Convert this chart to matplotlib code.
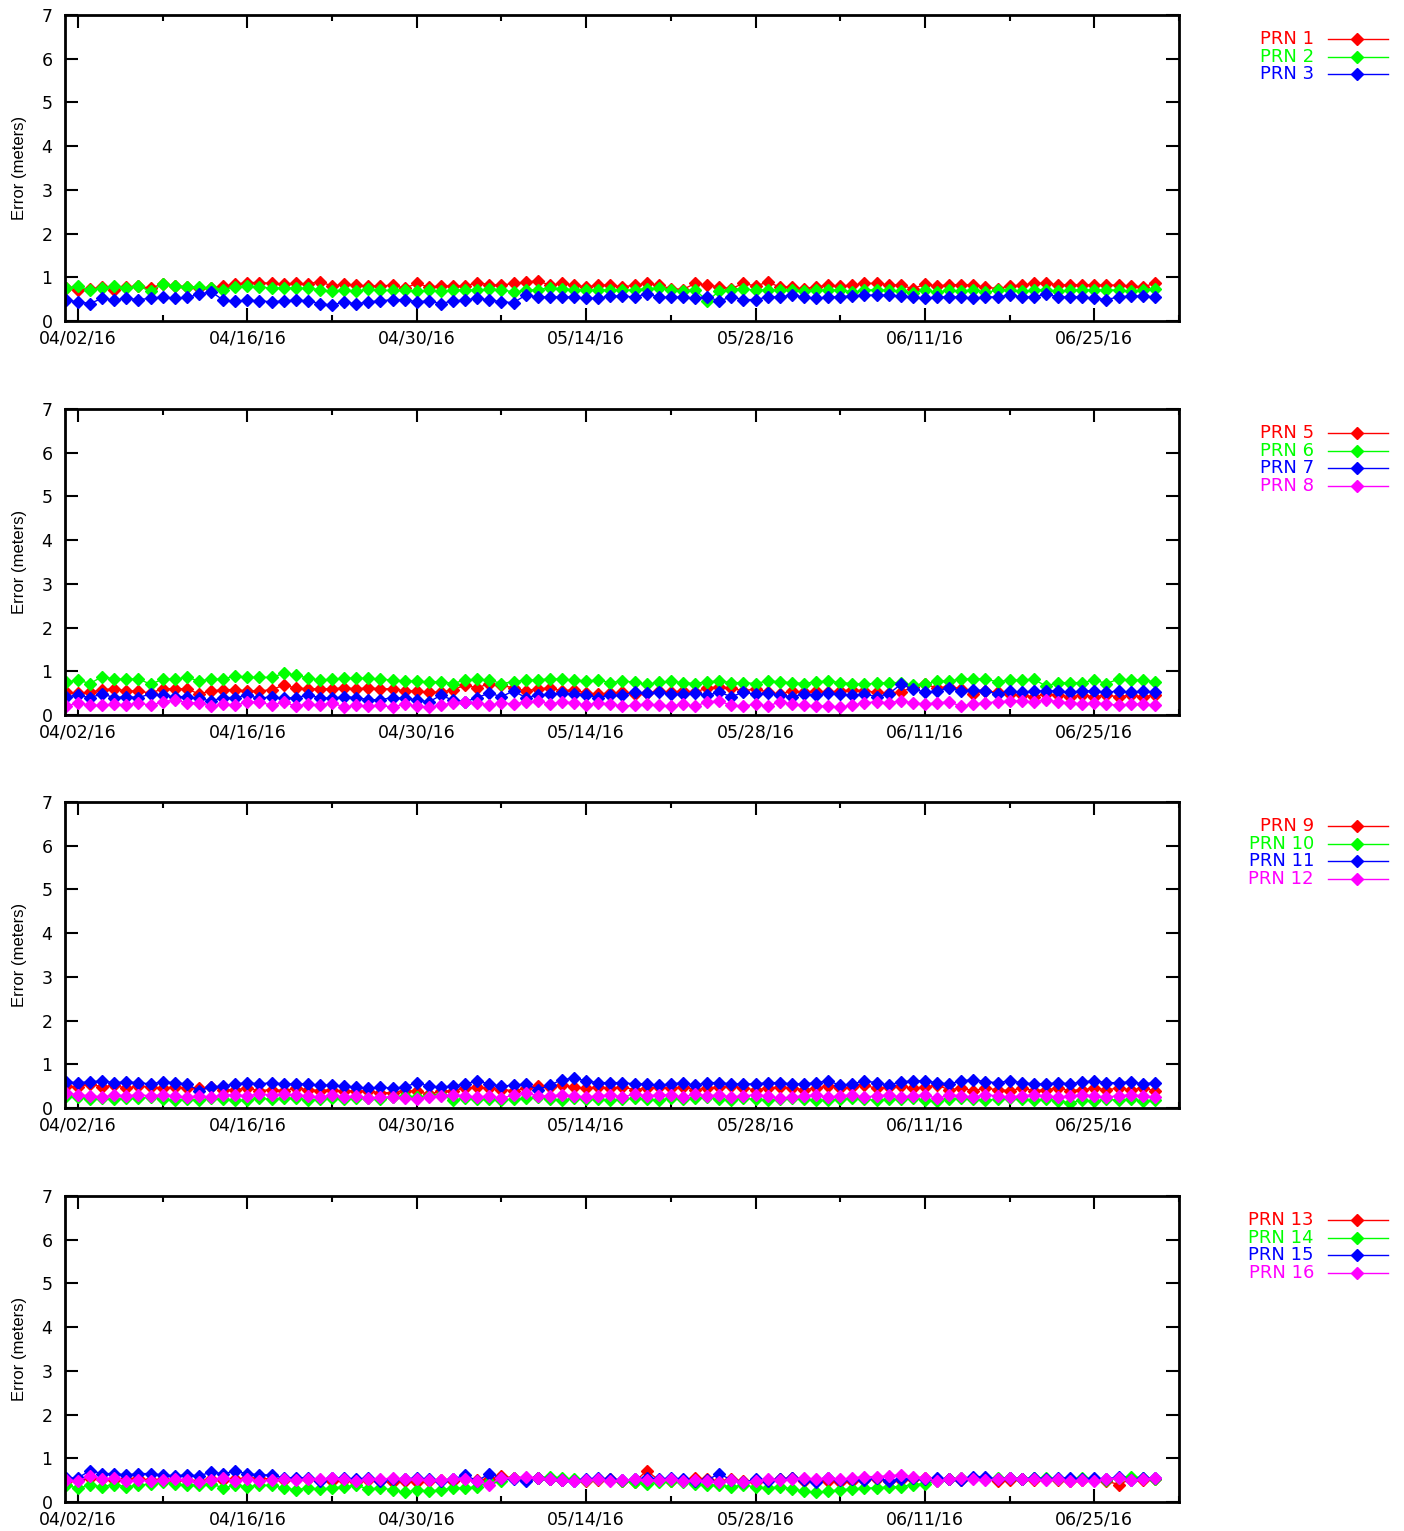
import matplotlib
matplotlib.use("Agg")
import matplotlib.pyplot as plt
import matplotlib.dates as mdates
from matplotlib.lines import Line2D
import pandas as pd

# daily samples, 04/01/16 .. 06/30/16
dates = pd.date_range("2016-04-01", periods=91, freq="D")

prn1 = [0.75, 0.72, 0.73, 0.78, 0.70, 0.77, 0.80, 0.75, 0.85, 0.80,
        0.78, 0.75, 0.75, 0.80, 0.84, 0.88, 0.88, 0.86, 0.85, 0.86,
        0.85, 0.90, 0.80, 0.84, 0.82, 0.80, 0.80, 0.82, 0.75, 0.86,
        0.78, 0.80, 0.80, 0.80, 0.88, 0.83, 0.82, 0.86, 0.89, 0.92,
        0.82, 0.86, 0.82, 0.78, 0.82, 0.82, 0.78, 0.82, 0.86, 0.82,
        0.74, 0.72, 0.86, 0.82, 0.78, 0.74, 0.86, 0.80, 0.89, 0.78,
        0.77, 0.74, 0.78, 0.82, 0.80, 0.82, 0.86, 0.86, 0.83, 0.82,
        0.74, 0.84, 0.80, 0.83, 0.83, 0.82, 0.78, 0.74, 0.80, 0.82,
        0.86, 0.86, 0.83, 0.82, 0.83, 0.82, 0.82, 0.82, 0.80, 0.78,
        0.86]
prn2 = [0.75, 0.80, 0.70, 0.75, 0.80, 0.75, 0.80, 0.68, 0.84, 0.80,
        0.78, 0.78, 0.75, 0.72, 0.78, 0.80, 0.78, 0.75, 0.76, 0.75,
        0.75, 0.72, 0.68, 0.72, 0.68, 0.73, 0.70, 0.70, 0.70, 0.68,
        0.70, 0.68, 0.70, 0.72, 0.70, 0.73, 0.72, 0.66, 0.70, 0.72,
        0.76, 0.74, 0.72, 0.72, 0.70, 0.72, 0.70, 0.72, 0.74, 0.76,
        0.70, 0.68, 0.72, 0.46, 0.68, 0.72, 0.74, 0.70, 0.72, 0.70,
        0.72, 0.68, 0.72, 0.70, 0.72, 0.66, 0.70, 0.72, 0.70, 0.68,
        0.64, 0.70, 0.66, 0.70, 0.68, 0.72, 0.66, 0.70, 0.72, 0.68,
        0.70, 0.72, 0.68, 0.70, 0.72, 0.70, 0.72, 0.70, 0.68, 0.72,
        0.74]
prn3 = [0.48, 0.44, 0.40, 0.52, 0.48, 0.52, 0.49, 0.52, 0.55, 0.52,
        0.54, 0.61, 0.67, 0.48, 0.45, 0.48, 0.46, 0.44, 0.46, 0.48,
        0.46, 0.40, 0.36, 0.44, 0.39, 0.44, 0.46, 0.49, 0.49, 0.44,
        0.46, 0.40, 0.46, 0.48, 0.52, 0.48, 0.44, 0.42, 0.59, 0.55,
        0.55, 0.55, 0.55, 0.52, 0.52, 0.57, 0.57, 0.55, 0.62, 0.55,
        0.54, 0.55, 0.52, 0.55, 0.46, 0.55, 0.49, 0.49, 0.55, 0.55,
        0.59, 0.55, 0.52, 0.55, 0.55, 0.58, 0.59, 0.59, 0.59, 0.57,
        0.55, 0.52, 0.55, 0.55, 0.55, 0.52, 0.55, 0.55, 0.59, 0.55,
        0.55, 0.62, 0.55, 0.55, 0.55, 0.52, 0.49, 0.55, 0.57, 0.57,
        0.55]

prn5 = [0.52, 0.50, 0.52, 0.58, 0.60, 0.55, 0.55, 0.50, 0.60, 0.60,
        0.60, 0.48, 0.55, 0.58, 0.58, 0.55, 0.55, 0.58, 0.68, 0.62,
        0.60, 0.60, 0.60, 0.62, 0.60, 0.62, 0.60, 0.60, 0.55, 0.55,
        0.52, 0.52, 0.58, 0.68, 0.62, 0.72, 0.68, 0.62, 0.55, 0.60,
        0.62, 0.55, 0.58, 0.50, 0.48, 0.50, 0.52, 0.48, 0.50, 0.55,
        0.52, 0.55, 0.52, 0.62, 0.64, 0.62, 0.55, 0.60, 0.52, 0.48,
        0.55, 0.52, 0.55, 0.52, 0.55, 0.58, 0.55, 0.52, 0.50, 0.52,
        0.65, 0.70, 0.62, 0.65, 0.60, 0.48, 0.55, 0.52, 0.48, 0.45,
        0.42, 0.48, 0.45, 0.42, 0.45, 0.42, 0.45, 0.42, 0.45, 0.42,
        0.45]
prn6 = [0.75, 0.80, 0.72, 0.88, 0.82, 0.82, 0.83, 0.70, 0.82, 0.82,
        0.86, 0.78, 0.82, 0.82, 0.90, 0.86, 0.86, 0.86, 0.95, 0.92,
        0.84, 0.80, 0.82, 0.84, 0.84, 0.84, 0.82, 0.80, 0.78, 0.77,
        0.76, 0.76, 0.72, 0.80, 0.82, 0.80, 0.72, 0.76, 0.80, 0.80,
        0.83, 0.82, 0.80, 0.78, 0.80, 0.74, 0.78, 0.75, 0.70, 0.75,
        0.77, 0.74, 0.72, 0.76, 0.78, 0.74, 0.74, 0.72, 0.78, 0.76,
        0.74, 0.72, 0.76, 0.78, 0.74, 0.72, 0.70, 0.73, 0.74, 0.74,
        0.68, 0.70, 0.78, 0.78, 0.82, 0.83, 0.82, 0.76, 0.80, 0.80,
        0.82, 0.66, 0.74, 0.74, 0.74, 0.80, 0.72, 0.82, 0.80, 0.80,
        0.76]
prn7 = [0.42, 0.45, 0.40, 0.48, 0.40, 0.42, 0.40, 0.48, 0.45, 0.42,
        0.42, 0.38, 0.32, 0.40, 0.40, 0.45, 0.38, 0.42, 0.38, 0.40,
        0.45, 0.40, 0.38, 0.42, 0.40, 0.35, 0.35, 0.40, 0.38, 0.35,
        0.30, 0.45, 0.34, 0.30, 0.40, 0.50, 0.42, 0.55, 0.40, 0.45,
        0.48, 0.50, 0.48, 0.45, 0.40, 0.45, 0.45, 0.52, 0.50, 0.52,
        0.48, 0.48, 0.50, 0.45, 0.52, 0.42, 0.52, 0.48, 0.50, 0.45,
        0.42, 0.48, 0.45, 0.50, 0.48, 0.45, 0.48, 0.42, 0.48, 0.70,
        0.60, 0.52, 0.55, 0.62, 0.55, 0.58, 0.55, 0.48, 0.55, 0.52,
        0.55, 0.55, 0.55, 0.52, 0.55, 0.55, 0.52, 0.55, 0.52, 0.55,
        0.52]
prn8 = [0.20, 0.28, 0.22, 0.22, 0.25, 0.22, 0.28, 0.22, 0.30, 0.35,
        0.28, 0.28, 0.20, 0.25, 0.22, 0.30, 0.30, 0.22, 0.30, 0.20,
        0.25, 0.22, 0.28, 0.18, 0.22, 0.20, 0.22, 0.18, 0.25, 0.20,
        0.18, 0.22, 0.28, 0.30, 0.28, 0.22, 0.28, 0.25, 0.30, 0.32,
        0.25, 0.30, 0.28, 0.22, 0.28, 0.25, 0.20, 0.22, 0.25, 0.22,
        0.20, 0.25, 0.20, 0.30, 0.32, 0.22, 0.20, 0.25, 0.20, 0.30,
        0.25, 0.22, 0.20, 0.20, 0.18, 0.22, 0.28, 0.30, 0.28, 0.32,
        0.28, 0.25, 0.28, 0.30, 0.20, 0.25, 0.28, 0.30, 0.32, 0.32,
        0.30, 0.35, 0.30, 0.28, 0.25, 0.28, 0.25, 0.22, 0.25, 0.25,
        0.22]

prn9 = [0.50, 0.48, 0.55, 0.48, 0.52, 0.45, 0.50, 0.48, 0.45, 0.48,
        0.45, 0.45, 0.48, 0.42, 0.42, 0.45, 0.40, 0.42, 0.40, 0.45,
        0.42, 0.40, 0.42, 0.38, 0.40, 0.38, 0.35, 0.35, 0.40, 0.38,
        0.32, 0.38, 0.40, 0.45, 0.48, 0.45, 0.42, 0.40, 0.45, 0.50,
        0.48, 0.52, 0.48, 0.45, 0.48, 0.45, 0.48, 0.42, 0.45, 0.48,
        0.45, 0.48, 0.42, 0.45, 0.48, 0.50, 0.45, 0.42, 0.45, 0.48,
        0.45, 0.42, 0.45, 0.50, 0.45, 0.48, 0.52, 0.45, 0.48, 0.50,
        0.45, 0.48, 0.52, 0.42, 0.45, 0.40, 0.45, 0.42, 0.40, 0.45,
        0.40, 0.42, 0.45, 0.40, 0.42, 0.45, 0.42, 0.45, 0.42, 0.45,
        0.40]
prn10 = [0.28, 0.25, 0.20, 0.22, 0.20, 0.22, 0.22, 0.25, 0.20, 0.18,
         0.20, 0.18, 0.22, 0.20, 0.18, 0.18, 0.22, 0.20, 0.22, 0.22,
         0.18, 0.20, 0.22, 0.20, 0.22, 0.22, 0.20, 0.25, 0.28, 0.25,
         0.28, 0.30, 0.18, 0.22, 0.20, 0.20, 0.18, 0.20, 0.22, 0.25,
         0.20, 0.18, 0.22, 0.20, 0.20, 0.18, 0.20, 0.22, 0.20, 0.18,
         0.22, 0.20, 0.22, 0.25, 0.20, 0.18, 0.22, 0.20, 0.18, 0.20,
         0.22, 0.20, 0.18, 0.18, 0.20, 0.22, 0.20, 0.18, 0.20, 0.20,
         0.22, 0.18, 0.16, 0.20, 0.22, 0.20, 0.18, 0.20, 0.22, 0.20,
         0.18, 0.20, 0.16, 0.12, 0.18, 0.15, 0.20, 0.18, 0.20, 0.16,
         0.18]
prn11 = [0.60, 0.58, 0.60, 0.62, 0.58, 0.60, 0.58, 0.55, 0.60, 0.58,
         0.55, 0.40, 0.48, 0.50, 0.55, 0.58, 0.55, 0.58, 0.55, 0.55,
         0.55, 0.52, 0.52, 0.50, 0.48, 0.45, 0.48, 0.45, 0.48, 0.58,
         0.50, 0.48, 0.50, 0.55, 0.62, 0.55, 0.50, 0.52, 0.55, 0.42,
         0.52, 0.65, 0.68, 0.62, 0.58, 0.58, 0.58, 0.55, 0.55, 0.52,
         0.55, 0.58, 0.52, 0.58, 0.58, 0.55, 0.55, 0.55, 0.58, 0.58,
         0.55, 0.55, 0.58, 0.62, 0.52, 0.55, 0.62, 0.58, 0.52, 0.60,
         0.62, 0.62, 0.58, 0.55, 0.62, 0.65, 0.60, 0.58, 0.62, 0.58,
         0.55, 0.55, 0.58, 0.55, 0.60, 0.62, 0.58, 0.58, 0.60, 0.55,
         0.58]
prn12 = [0.35, 0.30, 0.28, 0.25, 0.30, 0.28, 0.30, 0.28, 0.30, 0.28,
         0.25, 0.28, 0.25, 0.30, 0.30, 0.28, 0.32, 0.30, 0.32, 0.30,
         0.28, 0.25, 0.30, 0.25, 0.28, 0.22, 0.25, 0.25, 0.22, 0.20,
         0.25, 0.28, 0.30, 0.28, 0.25, 0.28, 0.22, 0.30, 0.35, 0.28,
         0.28, 0.30, 0.28, 0.25, 0.28, 0.30, 0.25, 0.32, 0.28, 0.30,
         0.30, 0.25, 0.32, 0.28, 0.30, 0.25, 0.28, 0.30, 0.28, 0.22,
         0.25, 0.28, 0.30, 0.25, 0.28, 0.30, 0.25, 0.28, 0.30, 0.25,
         0.28, 0.30, 0.22, 0.30, 0.28, 0.25, 0.30, 0.28, 0.25, 0.28,
         0.30, 0.28, 0.25, 0.28, 0.30, 0.28, 0.25, 0.28, 0.30, 0.28,
         0.25]

prn13 = [0.48, 0.50, 0.55, 0.52, 0.50, 0.52, 0.55, 0.50, 0.52, 0.50,
         0.50, 0.48, 0.52, 0.50, 0.52, 0.55, 0.55, 0.52, 0.50, 0.52,
         0.52, 0.50, 0.48, 0.50, 0.45, 0.50, 0.48, 0.45, 0.48, 0.45,
         0.48, 0.50, 0.48, 0.52, 0.50, 0.52, 0.60, 0.55, 0.52, 0.55,
         0.52, 0.50, 0.50, 0.48, 0.50, 0.52, 0.48, 0.45, 0.72, 0.50,
         0.48, 0.50, 0.55, 0.52, 0.48, 0.52, 0.48, 0.45, 0.50, 0.52,
         0.55, 0.48, 0.50, 0.48, 0.45, 0.48, 0.50, 0.52, 0.48, 0.50,
         0.52, 0.55, 0.50, 0.52, 0.50, 0.55, 0.52, 0.48, 0.50, 0.52,
         0.50, 0.52, 0.50, 0.48, 0.50, 0.52, 0.48, 0.40, 0.52, 0.50,
         0.52]
prn14 = [0.38, 0.32, 0.38, 0.35, 0.40, 0.35, 0.38, 0.42, 0.45, 0.42,
         0.38, 0.40, 0.42, 0.32, 0.38, 0.35, 0.38, 0.38, 0.32, 0.28,
         0.32, 0.30, 0.32, 0.35, 0.38, 0.30, 0.32, 0.28, 0.22, 0.28,
         0.25, 0.28, 0.32, 0.32, 0.35, 0.45, 0.48, 0.55, 0.52, 0.55,
         0.58, 0.55, 0.52, 0.50, 0.52, 0.50, 0.48, 0.45, 0.42, 0.45,
         0.48, 0.45, 0.42, 0.40, 0.38, 0.35, 0.38, 0.35, 0.32, 0.35,
         0.30, 0.25, 0.22, 0.25, 0.28, 0.30, 0.32, 0.32, 0.35, 0.35,
         0.40, 0.42, 0.48, 0.52, 0.55, 0.55, 0.52, 0.55, 0.55, 0.52,
         0.55, 0.55, 0.52, 0.50, 0.55, 0.52, 0.50, 0.55, 0.58, 0.55,
         0.52]
prn15 = [0.55, 0.55, 0.72, 0.65, 0.65, 0.62, 0.65, 0.65, 0.62, 0.60,
         0.62, 0.60, 0.68, 0.65, 0.70, 0.65, 0.62, 0.62, 0.55, 0.55,
         0.55, 0.48, 0.55, 0.55, 0.52, 0.55, 0.48, 0.52, 0.52, 0.55,
         0.52, 0.48, 0.52, 0.62, 0.48, 0.65, 0.55, 0.52, 0.48, 0.55,
         0.52, 0.50, 0.48, 0.52, 0.55, 0.52, 0.50, 0.52, 0.55, 0.52,
         0.55, 0.52, 0.48, 0.50, 0.65, 0.50, 0.45, 0.52, 0.48, 0.52,
         0.55, 0.50, 0.45, 0.55, 0.50, 0.52, 0.50, 0.55, 0.48, 0.52,
         0.55, 0.52, 0.55, 0.52, 0.50, 0.58, 0.58, 0.52, 0.55, 0.52,
         0.55, 0.52, 0.55, 0.55, 0.52, 0.55, 0.52, 0.58, 0.50, 0.55,
         0.55]
prn16 = [0.50, 0.48, 0.60, 0.52, 0.55, 0.48, 0.50, 0.48, 0.50, 0.52,
         0.50, 0.45, 0.50, 0.55, 0.48, 0.52, 0.48, 0.50, 0.52, 0.50,
         0.52, 0.52, 0.55, 0.52, 0.48, 0.52, 0.52, 0.55, 0.52, 0.52,
         0.50, 0.50, 0.52, 0.52, 0.48, 0.40, 0.55, 0.55, 0.58, 0.55,
         0.52, 0.50, 0.48, 0.50, 0.52, 0.48, 0.50, 0.52, 0.50, 0.50,
         0.52, 0.48, 0.50, 0.48, 0.45, 0.50, 0.45, 0.48, 0.52, 0.50,
         0.52, 0.55, 0.52, 0.55, 0.52, 0.55, 0.58, 0.58, 0.60, 0.62,
         0.58, 0.55, 0.48, 0.52, 0.55, 0.52, 0.50, 0.52, 0.55, 0.52,
         0.52, 0.50, 0.52, 0.48, 0.50, 0.48, 0.52, 0.55, 0.50, 0.52,
         0.55]

panels = [
    [("PRN 1", prn1), ("PRN 2", prn2), ("PRN 3", prn3)],
    [("PRN 5", prn5), ("PRN 6", prn6), ("PRN 7", prn7), ("PRN 8", prn8)],
    [("PRN 9", prn9), ("PRN 10", prn10), ("PRN 11", prn11), ("PRN 12", prn12)],
    [("PRN 13", prn13), ("PRN 14", prn14), ("PRN 15", prn15), ("PRN 16", prn16)],
]
colors = ["#ff0000", "#00ff00", "#0000ff", "#ff00ff"]

W, H = 1404, 1531
plt.rcParams["font.family"] = ["DejaVu Sans"]
fig = plt.figure(figsize=(W / 100, H / 100), dpi=100)

ax_tops = [15, 409, 802, 1196]
ax_h = 306
left, right = 65, 1179
x0 = pd.Timestamp("2016-04-01") - pd.Timedelta(hours=1.7)
x1 = x0 + pd.Timedelta(days=91.3)
major = pd.date_range("2016-04-02", periods=7, freq="14D")
minor = pd.date_range("2016-04-09", periods=7, freq="14D")

for top, series in zip(ax_tops, panels):
    ax = fig.add_axes([left / W, 1 - (top + ax_h) / H, (right - left) / W, ax_h / H])
    for (name, vals), c in zip(series, colors):
        ax.plot(dates, vals, color=c, lw=1, marker="D", ms=6.5, mec=c, mfc=c)
    ax.set_xlim(x0, x1)
    ax.set_ylim(0, 7)
    ax.set_yticks(range(8))
    ax.set_xticks(major)
    ax.set_xticks(minor, minor=True)
    ax.xaxis.set_major_formatter(mdates.DateFormatter("%m/%d/%y"))
    ax.tick_params(which="both", direction="in", top=True, right=True, width=1.5, labelsize=12.5)
    ax.tick_params(which="major", length=9.5, pad=6)
    ax.tick_params(axis="y", pad=9)
    ax.tick_params(which="minor", length=4.5)
    for s in ax.spines.values():
        s.set_linewidth(2)
    ax.set_ylabel("Error (meters)", fontsize=12, family="Liberation Sans", labelpad=10)

    # key, gnuplot style: label right-aligned, sample line with a marker
    for i, ((name, vals), c) in enumerate(zip(series, colors)):
        y = 1 - (top + 24 + i * 17.6) / H
        fig.text(1314 / W, y, name, color=c, ha="right", va="center", fontsize=13)
        fig.add_artist(Line2D([1328 / W, 1388 / W], [y, y], color=c, lw=1))
        fig.add_artist(Line2D([1357 / W], [y], color=c, marker="D", ms=6.5, mec=c, mfc=c))

fig.savefig("out.png", dpi=100)
